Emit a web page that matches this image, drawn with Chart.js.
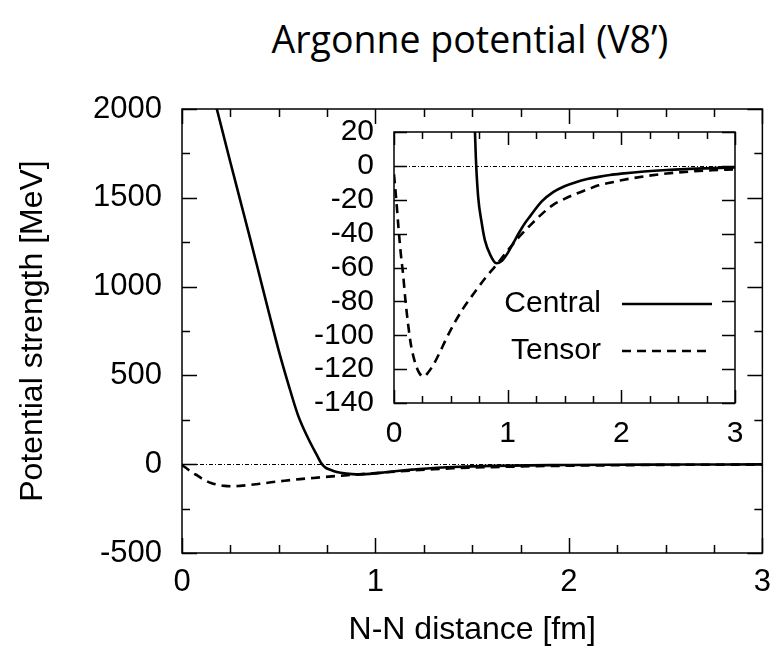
<!DOCTYPE html>
<html>
<head>
<meta charset="utf-8">
<script src="https://cdn.jsdelivr.net/npm/chart.js@4"></script>
<style>
  html, body { margin: 0; padding: 0; background: #fff; }
  #wrap { position: relative; width: 782px; height: 649px; overflow: hidden; }
  #title { position: absolute; left: 170px; top: 18px; width: 600px; text-align: center;
           font-family: 'Open Sans', sans-serif; font-size: 37.5px; line-height: 42px; color: #000; }
  canvas { position: absolute; left: 0; top: 0; }
</style>
</head>
<body>
<div id="wrap">
  <div id="title">Argonne potential (V8’)</div>
  <canvas id="main" width="782" height="649"></canvas>
  <canvas id="inset" width="782" height="649"></canvas>
</div>
<script>
// --- data (distance in fm, potential in MeV) ---
const centralX = [0.15, 0.18, 0.25, 0.30, 0.35, 0.40, 0.45, 0.50, 0.55, 0.60, 0.65, 0.70, 0.72, 0.74, 0.77, 0.80, 0.85, 0.90, 0.95, 1.00, 1.05, 1.10, 1.15, 1.20, 1.30, 1.40, 1.50, 1.60, 1.70, 1.80, 1.90, 2.00, 2.20, 2.40, 2.60, 2.80, 3.00];
const centralV = [2130, 2000, 1700, 1490, 1280, 1065, 850, 640, 450, 275, 150, 45, 5, -18, -33, -44, -53, -57.5, -56, -51.5, -45.5, -39.5, -34, -29.5, -21, -15.5, -12, -9.6, -7.8, -6.5, -5.4, -4.6, -3.3, -2.4, -1.8, -1.3, -1];

const tensorX = [0, 0.02, 0.04, 0.06, 0.08, 0.10, 0.125, 0.15, 0.185, 0.22, 0.26, 0.30, 0.35, 0.40, 0.46, 0.53, 0.61, 0.70, 0.80, 0.90, 1.00, 1.10, 1.20, 1.30, 1.40, 1.50, 1.60, 1.70, 1.80, 1.90, 2.00, 2.20, 2.40, 2.60, 2.80, 3.00];
const tensorV = [-5, -20, -37, -52, -64, -79, -94, -106, -116, -122, -124.5, -122, -117, -110.5, -102, -93, -84, -75.5, -66.5, -58.5, -50, -42, -35, -28.5, -23, -19.5, -16.5, -14, -11.5, -10, -8.5, -6.2, -4.5, -3.4, -2.6, -2];

// ticks
const xTicks = [0, 0.25, 0.5, 0.75, 1, 1.25, 1.5, 1.75, 2, 2.25, 2.5, 2.75, 3];
const xLabels = [0, 1, 2, 3];
const mainYTicks = [-500, -250, 0, 250, 500, 750, 1000, 1250, 1500, 1750, 2000];
const mainYLabels = [-500, 0, 500, 1000, 1500, 2000];
const insetYTicks = [-140, -120, -100, -80, -60, -40, -20, 0, 20];

Chart.defaults.font.family = "'Liberation Sans', Arial, sans-serif";
Chart.defaults.color = '#000';
Chart.defaults.animation = false;

const pts = (xs, vs) => xs.map((x, i) => ({ x: x, y: vs[i] }));

function datasets() {
  return [
    { label: 'Central', data: pts(centralX, centralV), borderColor: '#000', borderWidth: 2.6,
      pointRadius: 0, cubicInterpolationMode: 'monotone', fill: false },
    { label: 'Tensor', data: pts(tensorX, tensorV), borderColor: '#000', borderWidth: 2.6,
      borderDash: [9, 6], pointRadius: 0, cubicInterpolationMode: 'monotone', fill: false }
  ];
}

// gnuplot-like frame: inward ticks on all four sides, dash-dot zero line
function frame(cfg) {
  return {
    id: 'frame',
    beforeDatasetsDraw(chart) {
      const { ctx, chartArea: a, scales: { y } } = chart;
      const y0 = Math.round(y.getPixelForValue(0)) + 0.5;
      ctx.save();
      ctx.strokeStyle = '#000';
      ctx.lineWidth = 1;
      ctx.setLineDash([4, 2, 1, 2]);
      ctx.beginPath();
      ctx.moveTo(a.left, y0); ctx.lineTo(a.right, y0);
      ctx.stroke();
      ctx.restore();
    },
    afterDatasetsDraw(chart) {
      const { ctx, chartArea: a, scales: { x, y } } = chart;
      ctx.save();
      ctx.strokeStyle = '#000';
      ctx.lineWidth = 1.5;
      ctx.beginPath();
      x.ticks.forEach(t => {
        const px = Math.round(x.getPixelForValue(t.value)) + 0.5;
        const len = cfg.xMajor.includes(t.value) ? cfg.major : cfg.minor;
        ctx.moveTo(px, a.bottom); ctx.lineTo(px, a.bottom - len);
        ctx.moveTo(px, a.top); ctx.lineTo(px, a.top + len);
      });
      y.ticks.forEach(t => {
        const py = Math.round(y.getPixelForValue(t.value)) + 0.5;
        const len = cfg.yMajor.includes(t.value) ? cfg.major : cfg.minor;
        ctx.moveTo(a.left, py); ctx.lineTo(a.left + len, py);
        ctx.moveTo(a.right, py); ctx.lineTo(a.right - len, py);
      });
      ctx.stroke();
      ctx.strokeRect(a.left, a.top, a.right - a.left, a.bottom - a.top);

      if (cfg.legend) {
        ctx.font = "30px 'Liberation Sans', Arial, sans-serif";
        ctx.fillStyle = '#000';
        ctx.textAlign = 'right';
        ctx.textBaseline = 'middle';
        chart.data.datasets.forEach((ds, i) => {
          const ly = a.top + 172 + i * 47;
          ctx.fillText(ds.label, a.right - 134, ly);
          ctx.lineWidth = 2.6;
          ctx.setLineDash(ds.borderDash || []);
          ctx.beginPath();
          ctx.moveTo(a.right - 113, ly); ctx.lineTo(a.right - 23, ly);
          ctx.stroke();
        });
      }
      ctx.restore();
    }
  };
}

function xAxis(fontSize, pad, height, title) {
  return {
    type: 'linear', min: 0, max: 3,
    afterBuildTicks: s => { s.ticks = xTicks.map(v => ({ value: v })); },
    afterFit: s => { s.height = height; },
    ticks: { autoSkip: false, maxRotation: 0, padding: pad, font: { size: fontSize },
             callback: v => xLabels.includes(v) ? String(v) : '' },
    grid: { display: false, drawTicks: false },
    border: { display: false },
    title: title ? { display: true, text: title, font: { size: 32 }, padding: { top: 0, bottom: 0 } } : { display: false }
  };
}

// main chart
new Chart(document.getElementById('main'), {
  type: 'line',
  data: { datasets: datasets() },
  options: {
    responsive: false,
    layout: { padding: { left: 0, top: 109, right: 14, bottom: 0 } },
    plugins: { legend: { display: false }, tooltip: { enabled: false } },
    scales: {
      x: xAxis(31, 11, 96, 'N-N distance [fm]'),
      y: {
        type: 'linear', min: -500, max: 2000,
        afterBuildTicks: s => { s.ticks = mainYTicks.map(v => ({ value: v })); },
        afterFit: s => { s.width = 182; },
        ticks: { autoSkip: false, padding: 20, font: { size: 31 },
                 callback: v => mainYLabels.includes(v) ? String(v) : '' },
        grid: { display: false, drawTicks: false },
        border: { display: false },
        title: { display: true, text: 'Potential strength [MeV]', font: { size: 32 }, padding: { top: 14, bottom: 0 } }
      }
    }
  },
  plugins: [frame({ xMajor: xLabels, yMajor: mainYLabels, major: 15, minor: 8 })]
});

// inset chart
new Chart(document.getElementById('inset'), {
  type: 'line',
  data: { datasets: datasets() },
  options: {
    responsive: false,
    layout: { padding: { left: 314, top: 132, right: 47, bottom: 196 } },
    plugins: { legend: { display: false }, tooltip: { enabled: false } },
    scales: {
      x: xAxis(30, 13, 50, null),
      y: {
        type: 'linear', min: -140, max: 20,
        afterBuildTicks: s => { s.ticks = insetYTicks.map(v => ({ value: v })); },
        afterFit: s => { s.width = 80; },
        ticks: { autoSkip: false, padding: 20, font: { size: 30 } },
        grid: { display: false, drawTicks: false },
        border: { display: false },
        title: { display: false }
      }
    }
  },
  plugins: [frame({ xMajor: xLabels, yMajor: insetYTicks, major: 13, minor: 7, legend: true })]
});
</script>
</body>
</html>
